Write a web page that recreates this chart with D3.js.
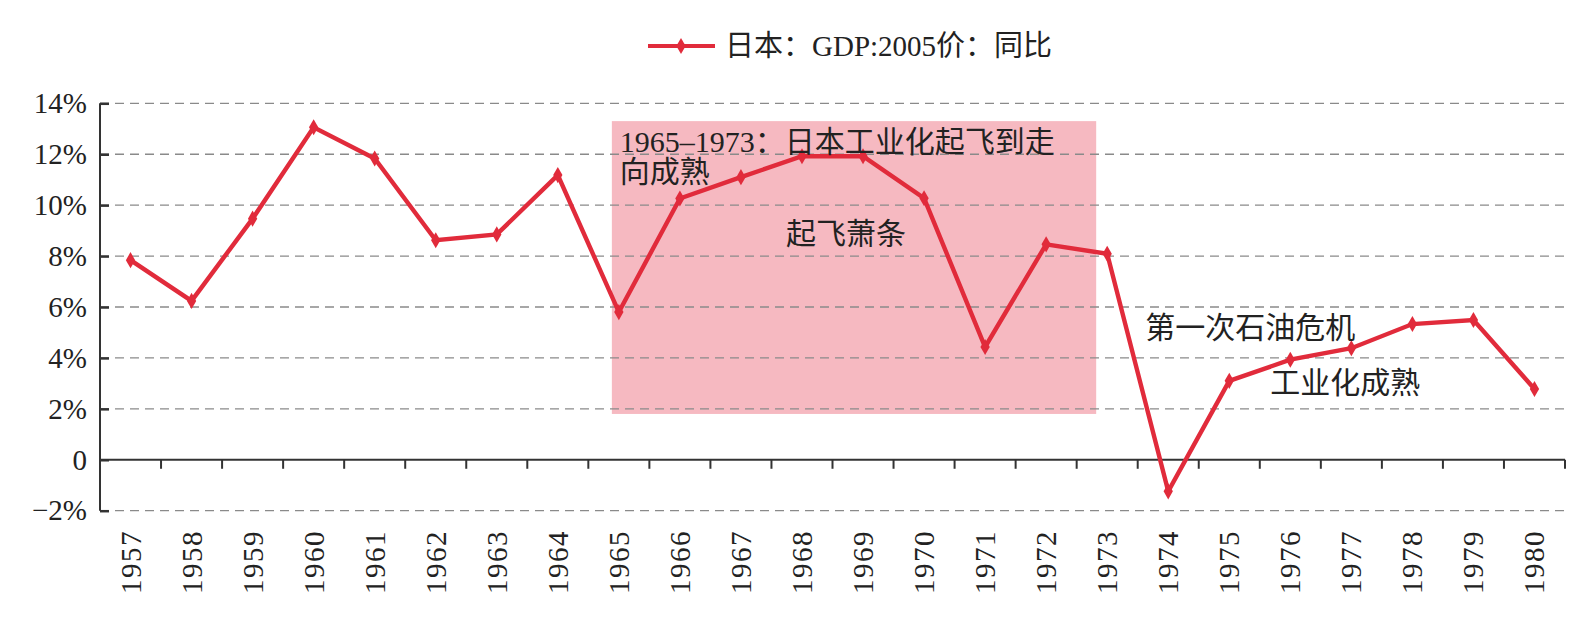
<!DOCTYPE html>
<html><head><meta charset="utf-8">
<script src="https://cdn.jsdelivr.net/npm/d3@7"></script>
<style>
html,body{margin:0;padding:0;background:#fff;}
svg{display:block;}
</style></head>
<body>
<svg id="chart" width="1586" height="617"></svg>
<script>
const years = ["1957","1958","1959","1960","1961","1962","1963","1964","1965","1966","1967","1968","1969","1970","1971","1972","1973","1974","1975","1976","1977","1978","1979","1980"];
const growth = [7.84,6.24,9.47,13.06,11.83,8.62,8.85,11.18,5.8,10.26,11.1,11.92,11.92,10.27,4.43,8.46,8.09,-1.24,3.1,3.93,4.38,5.33,5.49,2.78];
const yTicks = [-2,0,2,4,6,8,10,12,14];
const yTickLabels = ["\u22122%","0","2%","4%","6%","8%","10%","12%","14%"];
const seriesName = "日本：GDP:2005价：同比";
const shadeRange = {from:"1965", to:"1973", top:13.3, bottom:1.8};
const annotations = [
  {text:["1965\u20131973：日本工业化起飞到走","向成熟"], year:"1965", value:12.1, dx:1, anchor:"start"},
  {text:["起飞萧条"], year:"1968", value:8.46, dx:44, anchor:"middle"},
  {text:["第一次石油危机"], year:"1975", value:4.8, dx:-84, anchor:"start"},
  {text:["工业化成熟"], year:"1977", value:2.64, dx:-81, anchor:"start"}
];

const svg = d3.select("#chart");
const mLeft = 100, mRight = 1565, mTop = 103.3, mBottom = 510.7;
const serif = "'Liberation Serif','Times New Roman','Noto Sans CJK SC',serif";
const cjk = "'Liberation Serif','Noto Sans CJK SC',sans-serif";

const x = d3.scaleBand().domain(years).range([mLeft, mRight]).paddingInner(0).paddingOuter(0);
const y = d3.scaleLinear().domain([-2,14]).range([mBottom, mTop]);
const cx = d => x(d) + x.bandwidth()/2;

// shaded region
const rx0 = cx(shadeRange.from) - 7, rx1 = cx(shadeRange.to) - 11;
svg.append("rect")
  .attr("x", rx0).attr("y", y(shadeRange.top))
  .attr("width", rx1 - rx0)
  .attr("height", y(shadeRange.bottom) - y(shadeRange.top))
  .attr("fill", "#f6b9c1");

// gridlines
svg.append("g").selectAll("line").data(yTicks.filter(t => t !== 0)).join("line")
  .attr("x1", mLeft).attr("x2", mRight)
  .attr("y1", d => y(d)).attr("y2", d => y(d))
  .attr("stroke", "#8a8a8a").attr("stroke-width", 1.3).attr("stroke-dasharray", "9,6");

// y axis
const yAxis = d3.axisLeft(y).tickValues(yTicks).tickSize(-9)
  .tickFormat((d,i) => yTickLabels[i]);
const gy = svg.append("g").attr("transform", `translate(${mLeft},0)`).call(yAxis);
gy.select(".domain").attr("stroke", "#333").attr("stroke-width", 2).attr("d", `M0,${mBottom}V${mTop}`);
gy.selectAll(".tick line").attr("stroke", "#333").attr("stroke-width", 2.5);
gy.selectAll(".tick text").attr("font-family", serif).attr("font-size", 29).attr("fill", "#222").attr("x", -13);

// x axis at zero
const gx = svg.append("g").attr("transform", `translate(0,${y(0)})`);
gx.append("line").attr("x1", mLeft).attr("x2", mRight).attr("y1", 0).attr("y2", 0)
  .attr("stroke", "#333").attr("stroke-width", 2);
const boundaries = years.map(d => x(d) + x.bandwidth());
gx.selectAll("line.tk").data(boundaries).join("line").attr("class","tk")
  .attr("x1", d => d).attr("x2", d => d).attr("y1", 0).attr("y2", 9)
  .attr("stroke", "#333").attr("stroke-width", 2);

// x labels rotated
svg.append("g").selectAll("text").data(years).join("text")
  .attr("transform", d => `translate(${cx(d)+10},530) rotate(-90)`)
  .attr("text-anchor", "end")
  .attr("font-family", serif).attr("font-size", 29).attr("letter-spacing", 1.5).attr("fill", "#222")
  .text(d => d);

// line
const data = years.map((d,i) => ({year:d, v:growth[i]}));
const lineGen = d3.line().x(d => cx(d.year)).y(d => y(d.v));
svg.append("path").datum(data).attr("d", lineGen)
  .attr("fill", "none").attr("stroke", "#e12b3b").attr("stroke-width", 4.4)
  .attr("stroke-linejoin", "miter");
const diamond = d3.symbol().type(d3.symbolDiamond).size(75);
svg.append("g").selectAll("path").data(data).join("path")
  .attr("transform", d => `translate(${cx(d.year)},${y(d.v)})`)
  .attr("d", diamond).attr("fill", "#e12b3b");

// annotations
annotations.forEach(a => {
  const t = svg.append("text")
    .attr("x", cx(a.year) + a.dx).attr("y", y(a.value))
    .attr("text-anchor", a.anchor)
    .attr("font-family", cjk).attr("font-size", 30).attr("fill", "#222");
  a.text.forEach((ln, i) => {
    t.append("tspan").attr("x", cx(a.year) + a.dx).attr("dy", i === 0 ? 0 : 30).text(ln);
  });
});

// legend
const lg = svg.append("g");
lg.append("line").attr("x1", 648).attr("x2", 715).attr("y1", 46).attr("y2", 46)
  .attr("stroke", "#e12b3b").attr("stroke-width", 4);
lg.append("path").attr("transform", "translate(681,46)").attr("d", diamond).attr("fill", "#e12b3b");
lg.append("text").attr("x", 725).attr("y", 56).attr("font-family", cjk).attr("font-size", 29)
  .attr("fill", "#222").text(seriesName);
</script>
</body></html>
